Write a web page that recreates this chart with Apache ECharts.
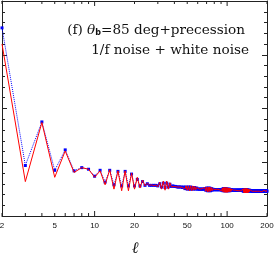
<!DOCTYPE html>
<html><head><meta charset="utf-8">
<script src="https://cdn.jsdelivr.net/npm/echarts@6/dist/echarts.min.js"></script>
<style>html,body{margin:0;padding:0;background:#fff}#c{width:276px;height:260px}</style>
</head><body><div id="c"></div>
<script>
// multipoles l = 2 .. 200
const ellFirst = 2, ellLast = 200;
const redVals = [
 3.20,0.64,1.74,0.72,1.21,0.81,0.90,0.87,0.72,0.84,0.58,0.86,0.50,0.84,0.47,0.84,0.47,0.80,0.50,
 0.72,0.52,0.67,0.56,0.61,0.57,0.58,0.56,0.58,0.54,
 0.63,0.50,0.65,0.48,0.65,0.50,0.62,0.54,0.57,0.55,
 0.56,0.54,0.55,0.54,0.54,0.53,0.56,0.50,0.56,0.48,
 0.56,0.47,0.56,0.47,0.56,0.48,0.55,0.49,0.53,0.50,
 0.51,0.50,0.51,0.50,0.51,0.50,0.51,0.53,0.46,0.54,
 0.45,0.54,0.45,0.54,0.46,0.53,0.47,0.51,0.49,0.50,
 0.49,0.50,0.49,0.50,0.49,0.50,0.49,0.50,0.49,0.51,
 0.47,0.52,0.45,0.53,0.44,0.53,0.44,0.53,0.44,0.53,
 0.44,0.52,0.45,0.52,0.45,0.51,0.46,0.50,0.47,0.49,
 0.47,0.48,0.47,0.48,0.47,0.48,0.47,0.48,0.47,0.48,
 0.47,0.48,0.47,0.48,0.47,0.48,0.47,0.48,0.47,0.49,
 0.45,0.50,0.44,0.51,0.43,0.51,0.43,0.51,0.43,0.51,
 0.43,0.51,0.43,0.50,0.44,0.50,0.45,0.49,0.46,0.48,
 0.46,0.47,0.46,0.47,0.46,0.47,0.46,0.47,0.46,0.47,
 0.46,0.47,0.46,0.47,0.46,0.47,0.46,0.47,0.46,0.47,
 0.46,0.47,0.46,0.47,0.46,0.47,0.46,0.47,0.46,0.47,
 0.46,0.47,0.45,0.48,0.45,0.48,0.45,0.48,0.45,0.48,
 0.45,0.48,0.45,0.48,0.45,0.48,0.45,0.48,0.45,0.47
];
const blueVals = [
 3.50,0.94,1.75,0.85,1.23,0.84,0.90,0.87,0.74,0.85,0.63,0.85,0.58,0.83,0.56,0.83,0.56,0.78,0.56,
 0.68,0.56,0.64,0.57,0.60,0.57,0.57,0.57,0.57,0.56,
 0.60,0.54,0.61,0.53,0.61,0.54,0.59,0.55,0.56,0.55,
 0.55,0.54,0.54,0.54,0.54,0.53,0.54,0.51,0.54,0.50,
 0.54,0.50,0.54,0.50,0.53,0.50,0.53,0.50,0.52,0.50,
 0.50,0.50,0.50,0.50,0.50,0.50,0.50,0.51,0.48,0.52,
 0.47,0.52,0.47,0.52,0.47,0.51,0.48,0.50,0.49,0.49,
 0.49,0.49,0.49,0.49,0.49,0.49,0.49,0.49,0.49,0.49,
 0.48,0.50,0.47,0.51,0.47,0.51,0.47,0.51,0.47,0.50,
 0.47,0.50,0.47,0.50,0.47,0.49,0.48,0.49,0.48,0.48,
 0.48,0.48,0.48,0.48,0.48,0.48,0.48,0.48,0.48,0.48,
 0.48,0.48,0.48,0.48,0.48,0.48,0.48,0.48,0.48,0.48,
 0.47,0.49,0.46,0.49,0.46,0.49,0.46,0.49,0.46,0.49,
 0.46,0.49,0.46,0.48,0.46,0.48,0.47,0.48,0.47,0.47,
 0.47,0.46,0.47,0.46,0.47,0.46,0.47,0.46,0.47,0.46,
 0.47,0.46,0.47,0.46,0.47,0.46,0.47,0.46,0.47,0.46,
 0.47,0.46,0.47,0.46,0.47,0.46,0.47,0.46,0.47,0.46,
 0.47,0.46,0.47,0.46,0.47,0.46,0.47,0.46,0.47,0.46,
 0.47,0.46,0.47,0.46,0.47,0.46,0.47,0.46,0.47,0.46
];
const xTickLabels = [2, 5, 10, 20, 50, 100, 200];
const xMajorTicks = [10, 100];
const xMinorTicks = [2, 3, 4, 5, 6, 7, 8, 9, 20, 30, 40, 50, 60, 70, 80, 90, 200];
const yMin = 0, yMax = 4, yStep = 1;
const titleLine1 = ['(f) ', 'θ', 'b', '=85 deg+precession'];
const titleLine2 = '1/f noise + white noise';
const xName = 'ℓ';

const ells = [];
for (let l = ellFirst; l <= ellLast; l++) ells.push(l);
const redData = ells.map((l, i) => [l, redVals[i]]);
const blueData = ells.map((l, i) => [l, blueVals[i]]);

const axisColor = '#222';
const chart = echarts.init(document.getElementById('c'), null, {renderer: 'canvas'});
const yAxisCommon = {
  type: 'value', min: yMin, max: yMax, interval: yStep,
  axisLine: {show: true, lineStyle: {color: axisColor, width: 1}},
  axisTick: {show: true, inside: true, length: 5, lineStyle: {color: axisColor}},
  minorTick: {show: true, splitNumber: 5, length: 3, lineStyle: {color: axisColor}},
  axisLabel: {show: false}, splitLine: {show: false}
};
chart.setOption({
  animation: false,
  grid: {left: 2, right: 9, top: 1, bottom: 44, show: false},
  xAxis: [{
    type: 'log', logBase: 10, min: 2, max: 200,
    axisLine: {show: true, onZero: false, lineStyle: {color: axisColor, width: 1}},
    axisTick: {show: false}, axisLabel: {show: false}, splitLine: {show: false}
  }, {
    type: 'log', logBase: 10, min: 2, max: 200, position: 'top',
    axisLine: {show: true, onZero: false, lineStyle: {color: axisColor, width: 1}},
    axisTick: {show: false}, axisLabel: {show: false}, splitLine: {show: false}
  }],
  yAxis: [Object.assign({position: 'left'}, yAxisCommon), Object.assign({position: 'right'}, yAxisCommon)],
  series: [{
    type: 'line', data: blueData, symbol: 'rect', symbolSize: 3, z: 2,
    itemStyle: {color: '#0000ff'},
    lineStyle: {color: '#0000ff', width: 1, type: 'dotted'}
  }, {
    type: 'line', data: redData, symbol: 'none', z: 3,
    lineStyle: {color: '#ff0000', width: 1}
  }]
});

// ticks and tick labels on the log axis, positioned through the axis scale
const yB = chart.convertToPixel({yAxisIndex: 0}, yMin);
const yT = chart.convertToPixel({yAxisIndex: 0}, yMax);
const g = [];
function tick(v, len) {
  const x = chart.convertToPixel({xAxisIndex: 0}, v);
  g.push({type: 'line', shape: {x1: x, y1: yB, x2: x, y2: yB - len}, style: {stroke: axisColor, lineWidth: 1}});
  g.push({type: 'line', shape: {x1: x, y1: yT, x2: x, y2: yT + len}, style: {stroke: axisColor, lineWidth: 1}});
}
xMinorTicks.forEach(v => tick(v, 3));
xMajorTicks.forEach(v => tick(v, 5));
xTickLabels.forEach(v => {
  const x = chart.convertToPixel({xAxisIndex: 0}, v);
  g.push({type: 'text', x: x, y: yB + 10, style: {text: String(v), fill: '#111', font: '8px "Liberation Sans"', align: 'center', verticalAlign: 'middle'}});
});
g.push({type: 'text', x: 245, y: 30, style: {
  text: '{a|' + titleLine1[0] + '}{t|' + titleLine1[1] + '}{s|' + titleLine1[2] + '}{a|' + titleLine1[3] + '}',
  align: 'right', verticalAlign: 'middle',
  rich: {
    a: {font: '13.6px "DejaVu Serif"', fill: '#111'},
    t: {font: 'italic 13.6px "DejaVu Serif"', fill: '#111'},
    s: {font: 'bold 8px "DejaVu Sans"', fill: '#111', padding: [6, 0, 0, 0]}
  }
}});
g.push({type: 'text', x: 249, y: 50, style: {text: titleLine2, font: '13.6px "DejaVu Serif"', fill: '#111', align: 'right', verticalAlign: 'middle'}});
g.push({type: 'text', x: 135, y: 249, style: {text: xName, font: 'italic 16px "DejaVu Serif"', fill: '#111', align: 'center', verticalAlign: 'middle'}});
chart.setOption({graphic: g});
</script>
</body></html>
